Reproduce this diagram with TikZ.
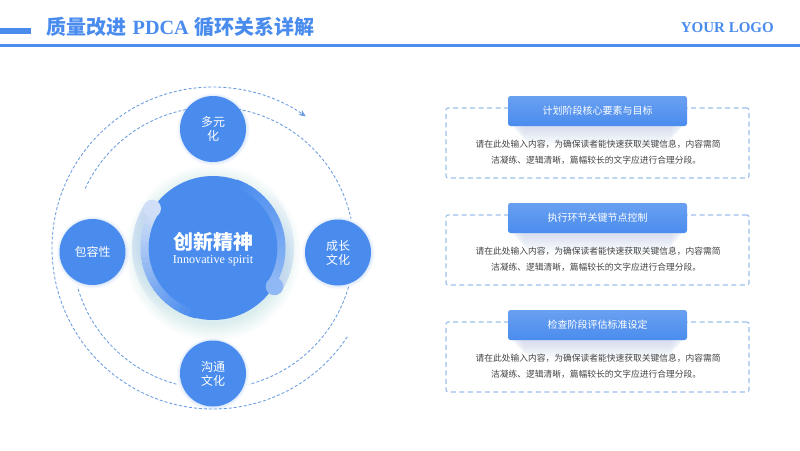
\documentclass[tikz,border=0pt]{standalone}
\usepackage{fontspec}
\setmainfont{Liberation Serif}
\newfontfamily\cjk{Noto Sans CJK SC}
\usetikzlibrary{arrows.meta,shapes.geometric,calc}
\definecolor{mainblue}{HTML}{4A8CEE}
\definecolor{linkblue}{HTML}{6A9CE0}
\definecolor{boxdash}{HTML}{9DBFEF}
\definecolor{bodygray}{HTML}{444444}
\definecolor{capl}{HTML}{D0DFF7}
\definecolor{capr}{HTML}{8FB8F5}
\definecolor{farl}{HTML}{D5E2F8}
\definecolor{farr}{HTML}{D8E5FA}
\definecolor{headtop}{HTML}{6AA0F1}
\newcommand{\fs}[1]{\fontsize{#1}{#1}\selectfont}
\newcommand{\fwc}{\symbol{"FF0C}}
\newcommand{\myglow}[5]{%
  \foreach \gi in {1,...,#4}{
    \fill[mainblue,opacity=#5] (#1,#2) circle ({#3+\gi});
  }}
\newcommand{\myband}[6]{%
  \foreach \ba in {0,...,23}{
    \pgfmathsetmacro{\aS}{#3+(#4-#3)*\ba/24}
    \pgfmathsetmacro{\aE}{#3+(#4-#3)*(\ba+1.25)/24}
    \pgfmathtruncatemacro{\pc}{100*\ba/23}
    \colorlet{bandc}{#5!\pc!#6}
    \draw[bandc,line width=#2pt] ($(c)+(\aS:#1)$) arc[start angle=\aS,end angle=\aE,radius=#1pt];
  }}
\newcommand{\mypanel}[3]{%
  \node[panel] (box#1) at (597.5,{-#2-32}) {};
  \foreach \gi in {1,...,18}{
    \fill[mainblue,opacity=0.012,rounded corners=10pt] ({506+\gi},{-#2+13}) rectangle ({689-\gi},{-#2-15-\gi*1.05});
  }
  \node[headbar,top color=headtop,bottom color=mainblue] (head#1) at (597.5,{-#2}) {#3};
  \node[bodytext] (bodya#1) at (598,{-#2-33.7}) {请在此处输入内容\fwc 为确保读者能快速获取关键信息\fwc 内容需简};
  \node[bodytext] (bodyb#1) at (596,{-#2-49.7}) {洁凝练、逻辑清晰\fwc 篇幅较长的文字应进行合理分段。};
}
\tikzset{
  x=1pt,y=1pt,
  disc/.style={circle,fill=mainblue,text=white,inner sep=0pt,minimum size=66pt,align=center,font=\cjk\fontsize{12}{14}\selectfont,text width=40pt},
  orbit/.style={linkblue,line width=0.85pt,dash pattern=on 3pt off 2pt},
  panel/.style={draw=boxdash,line width=1.1pt,dash pattern=on 5pt off 3.5pt,rounded corners=2pt,minimum width=303pt,minimum height=70pt,inner sep=0pt},
  headbar/.style={rounded corners=2.5pt,minimum width=179pt,minimum height=30pt,inner sep=0pt,text=white,font=\cjk\fs{10}},
  bodytext/.style={text=bodygray,font=\cjk\fs{8.75},align=center,inner sep=0pt}
}
\begin{document}
\begin{tikzpicture}
\useasboundingbox (0,0) rectangle (800,-450);
\fill[white] (0,0) rectangle (800,-450);
\coordinate (c) at (213,-248);
% header
\fill[mainblue] (0,-43.5) rectangle (800,-46.5);
\fill[mainblue] (0,-28) rectangle (31,-33.5);
\node[anchor=west,inner sep=0pt,text=mainblue,font=\fs{20}\bfseries] (title) at (46.5,-27) {{\cjk 质量改进}\hspace{6pt}{\fs{20.2}PDCA}\hspace{6pt}{\cjk 循环关系详解}};
\node[anchor=east,inner sep=0pt,text=mainblue,font=\fs{15}\bfseries] (logo) at (774,-28) {YOUR LOGO};
% orbits
\draw[orbit,-{Stealth[length=7pt,width=6pt]}] ($(c)+(-33.5:161)$) arc[start angle=-33.5,end angle=-305.2,radius=161pt];
\draw[orbit] ($(c)+(155:141)$) arc[start angle=155,end angle=12,radius=141pt];
\draw[orbit] ($(c)+(-16:141)$) arc[start angle=-16,end angle=-75,radius=141pt];
\draw[orbit] ($(c)+(-105:141)$) arc[start angle=-105,end angle=-164,radius=141pt];
% outer faint bands
\myband{76.5}{9}{147}{240}{white}{farl}
\myband{76.5}{9}{-32}{50}{white}{farr}
% main glow
\myglow{213}{-253}{70}{18}{0.008}
% main disc
\fill[mainblue] (c) circle (72);
% inner bands
\myband{68.5}{8}{147}{255}{mainblue}{capl}
\myband{68.5}{8}{-32}{70}{mainblue}{capr}
% caps
\fill[capl] ($(c)+(147:72.5)$) circle (8.8);
\fill[capr] ($(c)+(-32:72.5)$) circle (8.8);
\node[inner sep=0pt,text=white,font=\cjk\bfseries\fs{20}] (mainzh) at (213,-241.5) {创新精神};
\node[inner sep=0pt,text=white,font=\fs{12.2}] (mainen) at (213,-260.5) {Innovative spirit};
% satellites
\myglow{213.5}{-129.5}{32}{4}{0.05}
\myglow{93}{-252.5}{32}{4}{0.05}
\myglow{338.5}{-253}{32}{4}{0.05}
\myglow{213}{-374}{32}{4}{0.05}
\node[disc] (top) at (213,-129) {多元\\化};
\node[disc] (left) at (92.5,-252) {包容性};
\node[disc] (right) at (338,-252.5) {成长\\文化};
\node[disc] (bottom) at (213,-373.5) {沟通\\文化};
% panels
\mypanel{a}{111}{计划阶段核心要素与目标}
\mypanel{b}{218}{执行环节关键节点控制}
\mypanel{c}{325}{检查阶段评估标准设定}
\end{tikzpicture}
\end{document}
